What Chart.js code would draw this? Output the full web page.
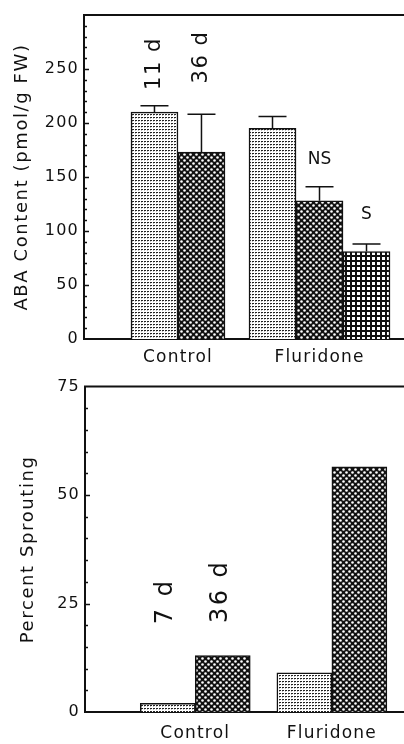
<!DOCTYPE html>
<html>
<head>
<meta charset="utf-8">
<script src="https://cdn.jsdelivr.net/npm/chart.js@4.4.1/dist/chart.umd.min.js"></script>
<style>
  html, body { margin: 0; padding: 0; background: #fff; }
  canvas { display: block; }
</style>
</head>
<body>
<canvas id="abaChart" width="404" height="372"></canvas>
<canvas id="sproutChart" width="404" height="372"></canvas>
<script>
const groups = ["Control", "Fluridone"];

// ABA content (pmol/g FW), upper panel
const abaDay11 = [210, 195];
const abaDay11Err = [6, 11];
const abaDay36NS = [173, 128];
const abaDay36NSErr = [35, 13];
const abaDay36S = [null, 81];
const abaDay36SErr = [null, 7];
const abaTicks = [0, 50, 100, 150, 200, 250];

// percent sprouting, lower panel
const sprout7d = [2, 9];
const sprout36d = [13, 56.5];
const sproutTicks = [0, 25, 50, 75];

const black = "#111";
const family = "'DejaVu Sans', sans-serif";

function makePattern(size, paint) {
  const c = document.createElement("canvas");
  c.width = size;
  c.height = size;
  const g = c.getContext("2d");
  paint(g, size);
  return g.createPattern(c, "repeat");
}

// light stipple
const stipple = makePattern(3, (g) => {
  g.fillStyle = "#fff";
  g.fillRect(0, 0, 3, 3);
  g.fillStyle = "#222";
  g.fillRect(0, 0, 2, 1);
  g.fillStyle = "#bbb";
  g.fillRect(0, 1, 1, 1);
});

// dense diagonal crosshatch
const crosshatch = makePattern(6, (g) => {
  g.fillStyle = "#111";
  g.fillRect(0, 0, 6, 6);
  g.fillStyle = "#fff";
  [[1.5, 1.5], [4.5, 4.5]].forEach(([x, y]) => {
    g.beginPath();
    g.arc(x, y, 1.3, 0, Math.PI * 2);
    g.fill();
  });
});

// square grid
const grid = makePattern(5, (g) => {
  g.fillStyle = "#111";
  g.fillRect(0, 0, 5, 5);
  g.fillStyle = "#fff";
  g.fillRect(2, 2, 3, 3);
});

function points(values) {
  return values.map((v, i) => ({ x: i + 1, y: v }));
}

// letter spacing: axis titles are drawn before the datasets, tick labels after (z: 1)
const spacing = {
  id: "spacing",
  beforeDraw(chart) { chart.ctx.letterSpacing = "1.6px"; },
  beforeDatasetsDraw(chart) { chart.ctx.letterSpacing = "1.2px"; }
};

function framePlugin(major, minor) {
  return {
    id: "frame",
    afterDraw(chart) {
      const { ctx, chartArea: a, scales: { y } } = chart;
      ctx.save();
      ctx.strokeStyle = black;
      ctx.lineWidth = 2;
      ctx.beginPath();
      ctx.moveTo(a.left - 1, a.top);
      ctx.lineTo(a.right, a.top);
      ctx.stroke();
      ctx.lineWidth = 1.5;
      for (let v = y.min + minor; v < y.max; v += minor) {
        const py = Math.round(y.getPixelForValue(v)) + 0.5;
        const len = v % major === 0 ? 5 : 3;
        ctx.beginPath();
        ctx.moveTo(a.left, py);
        ctx.lineTo(a.left + len, py);
        ctx.stroke();
      }
      ctx.restore();
    }
  };
}

const errorBars = {
  id: "errorBars",
  afterDatasetsDraw(chart) {
    const { ctx, scales: { y } } = chart;
    ctx.save();
    ctx.strokeStyle = black;
    ctx.lineWidth = 1.5;
    chart.data.datasets.forEach((ds, i) => {
      if (!ds.errors) return;
      chart.getDatasetMeta(i).data.forEach((bar, j) => {
        const e = ds.errors[j];
        const v = ds.data[j].y;
        if (e == null || v == null) return;
        const top = y.getPixelForValue(v + e);
        ctx.beginPath();
        ctx.moveTo(bar.x, bar.y);
        ctx.lineTo(bar.x, top);
        ctx.moveTo(bar.x - 14, top);
        ctx.lineTo(bar.x + 14, top);
        ctx.stroke();
      });
    });
    ctx.restore();
  }
};

function notesPlugin(items, rotatedFont, rotatedSpacing) {
  return {
    id: "notes",
    afterDraw(chart) {
      const { ctx, scales: { y } } = chart;
      items.forEach((n) => {
        const bar = chart.getDatasetMeta(n.dataset).data[n.index];
        ctx.save();
        ctx.fillStyle = black;
        ctx.textAlign = "center";
        ctx.textBaseline = "middle";
        ctx.translate(bar.x + (n.dx || 0), y.getPixelForValue(n.value));
        if (n.rotate) {
          ctx.rotate(-Math.PI / 2);
          ctx.font = rotatedFont;
          ctx.letterSpacing = rotatedSpacing;
        } else {
          ctx.font = "17px " + family;
          ctx.letterSpacing = "0px";
        }
        ctx.fillText(n.text, 0, 0);
        ctx.restore();
      });
    }
  };
}

function barChart(id, c) {
  return new Chart(document.getElementById(id), {
    type: "bar",
    data: { datasets: c.datasets },
    options: {
      responsive: false,
      animation: false,
      layout: { padding: { top: c.top, left: 0, right: 0, bottom: 0 } },
      plugins: { legend: { display: false }, tooltip: { enabled: false } },
      datasets: { bar: { borderColor: black, borderWidth: 1.5, barThickness: c.barWidth, skipNull: true } },
      scales: {
        x: {
          type: "linear",
          bounds: "data",
          offset: false,
          min: c.xMin,
          max: c.xMax,
          grid: { display: false, drawTicks: false },
          border: { color: black, width: 2 },
          afterBuildTicks: (s) => { s.ticks = groups.map((g, i) => ({ value: i + 1 })); },
          ticks: {
            z: 1,
            autoSkip: false,
            maxRotation: 0,
            padding: c.xPad,
            color: black,
            font: { family, size: 17 },
            callback: (v) => groups[v - 1] ?? ""
          },
          afterFit: (s) => { s.height = c.xHeight; }
        },
        y: {
          min: 0,
          max: c.yMax,
          grid: { display: false, drawTicks: false },
          border: { color: black, width: 2 },
          ticks: {
            z: 1,
            stepSize: c.yStep,
            padding: 5,
            color: black,
            font: { family, size: 16 },
            callback: (v) => (c.yTicks.includes(v) ? v : "")
          },
          title: {
            display: true,
            text: c.yTitle,
            color: black,
            font: { family, size: 18 },
            padding: { top: c.titlePad, bottom: 0 }
          },
          afterFit: (s) => { s.width = c.yWidth; }
        }
      }
    },
    plugins: [spacing, framePlugin(c.yStep, c.yMinor), errorBars, notesPlugin(c.notes, c.noteFont, c.noteSpacing)]
  });
}

barChart("abaChart", {
  datasets: [
    { label: "11 d", data: points(abaDay11), errors: abaDay11Err, backgroundColor: stipple },
    { label: "36 d (NS)", data: points(abaDay36NS), errors: abaDay36NSErr, backgroundColor: crosshatch },
    { label: "36 d (S)", data: points(abaDay36S), errors: abaDay36SErr, backgroundColor: grid }
  ],
  notes: [
    { dataset: 0, index: 0, text: "11 d", value: 255, rotate: true },
    { dataset: 1, index: 0, text: "36 d", value: 261, rotate: true },
    { dataset: 1, index: 1, text: "NS", value: 166 },
    { dataset: 2, index: 1, text: "S", value: 115 }
  ],
  noteFont: "21px " + family,
  noteSpacing: "1.5px",
  top: 15, barWidth: 47, xMin: 0.336, xMax: 2.597, xHeight: 33, xPad: 8,
  yMax: 300, yStep: 50, yMinor: 10, yTicks: abaTicks, yWidth: 84, titlePad: 12,
  yTitle: "ABA Content (pmol/g FW)"
});

barChart("sproutChart", {
  datasets: [
    { label: "7 d", data: points(sprout7d), backgroundColor: stipple },
    { label: "36 d", data: points(sprout36d), backgroundColor: crosshatch }
  ],
  notes: [
    { dataset: 0, index: 0, text: "7 d", value: 25.5, rotate: true, dx: -2 },
    { dataset: 1, index: 0, text: "36 d", value: 27.8, rotate: true, dx: -2 }
  ],
  noteFont: "24px " + family,
  noteSpacing: "2.5px",
  top: 14, barWidth: 55, xMin: 0.193, xMax: 2.528, xHeight: 32, xPad: 11,
  yMax: 75, yStep: 25, yMinor: 5, yTicks: sproutTicks, yWidth: 85, titlePad: 18,
  yTitle: "Percent Sprouting"
});
</script>
</body>
</html>
